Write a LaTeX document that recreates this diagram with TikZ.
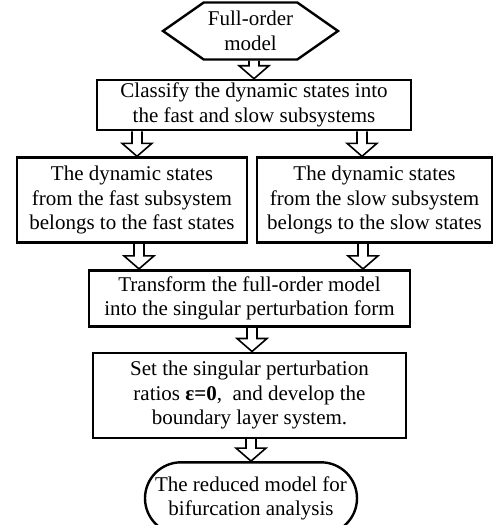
\documentclass[tikz,border=0pt]{standalone}
\usepackage{fontspec}
\setmainfont{Liberation Serif}
\usetikzlibrary{shapes.symbols,shapes.misc,positioning,calc}

\begin{document}
\begin{tikzpicture}[
    x=1pt, y=1pt,
    every node/.style={font=\fontsize{21}{24.5}\selectfont},
    hexa/.style={signal, signal to=west and east, signal pointer angle=70, draw, line width=2.4pt, minimum width=175pt, minimum height=57pt, inner sep=0pt, align=center},
    procbox/.style={rectangle, draw, line width=2.6pt, inner sep=0pt, align=center},
    term/.style={rounded rectangle, draw, line width=2.4pt, minimum width=212pt, minimum height=72pt, inner sep=0pt, align=center},
    hollow/.style={line width=1.6pt, line join=miter,
      to path={let \p1=(\tikztostart), \p2=(\tikztotarget) in
        (\x2-5pt,\y1) -- (\x2-5pt,\y2+13pt) -- (\x2-15pt,\y2+13pt) -- (\x2,\y2)
        -- (\x2+15pt,\y2+13pt) -- (\x2+5pt,\y2+13pt) -- (\x2+5pt,\y1)}}
  ]
  \useasboundingbox (0,0) rectangle (494,-525);

  \node[hexa] (full) at (250.5,-31) {Full-order\\model};
  \node[procbox, minimum width=314pt, minimum height=50pt, below=18pt of full, xshift=3.5pt] (classify) {Classify the dynamic states into\\the fast and slow subsystems};
  \node[procbox, minimum width=230pt, minimum height=85pt, below=25pt of classify, xshift=-122pt] (fast) {The dynamic states\\from the fast subsystem\\belongs to the fast states};
  \node[procbox, minimum width=235pt, minimum height=85pt, below=25pt of classify, xshift=120.5pt] (slow) {The dynamic states\\from the slow subsystem\\belongs to the slow states};
  \node[procbox, minimum width=321pt, minimum height=56pt, below=25pt of fast, xshift=117.5pt] (transform) {Transform the full-order model\\into the singular perturbation form};
  \node[procbox, minimum width=313pt, minimum height=85pt, below=24pt of transform] (setbox) {Set the singular perturbation\\ratios \textbf{ε=0}, \ and develop the\\boundary layer system.};
  \node[term, below=22pt of setbox, xshift=1.5pt] (reduced) {The reduced model for\\bifurcation analysis};

  \draw[hollow] (full.south) to (classify.north);
  \draw[hollow] (classify.south) to ([xshift=5pt]fast.north);
  \draw[hollow] (classify.south) to ([xshift=-12.5pt]slow.north);
  \draw[hollow] (fast.south) to ($(fast.south |- transform.north)+(7pt,0)$);
  \draw[hollow] (slow.south) to ($(slow.south |- transform.north)+(-11.5pt,0)$);
  \draw[hollow] (transform.south) to ([xshift=2.5pt]setbox.north);
  \draw[hollow] (setbox.south) to (reduced.north);

\end{tikzpicture}
\end{document}
